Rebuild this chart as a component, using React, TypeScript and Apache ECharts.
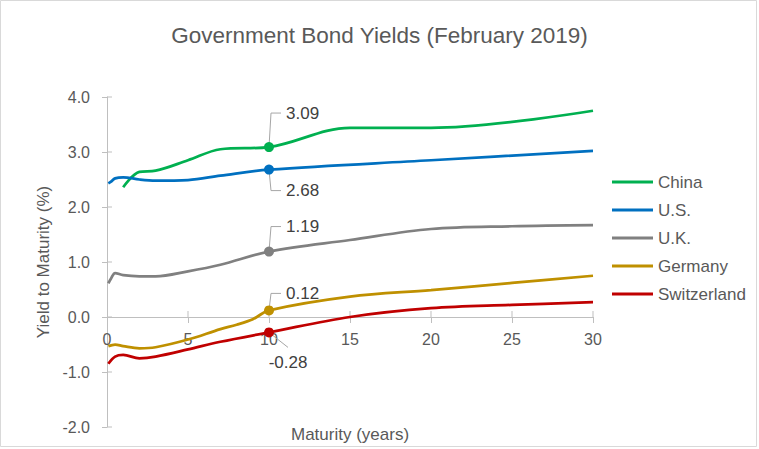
import React, { useEffect, useRef } from "react";
import * as echarts from "echarts";

const FONT = "'Liberation Sans', Arial, sans-serif";

const seriesNames = ["China", "U.S.", "U.K.", "Germany", "Switzerland"];
const seriesColors = ["#00b050", "#0070c0", "#808080", "#bf9000", "#c00000"];

const chinaMaturities = [1, 2, 3, 5, 7, 10, 15, 20, 30];
const chinaYields = [2.36, 2.64, 2.66, 2.85, 3.05, 3.09, 3.44, 3.44, 3.75];

const usMaturities = [0.083, 0.25, 0.5, 1, 2, 3, 5, 7, 10, 20, 30];
const usYields = [2.43, 2.46, 2.52, 2.54, 2.5, 2.48, 2.49, 2.57, 2.68, 2.85, 3.02];

const ukMaturities = [0.083, 0.25, 0.5, 1, 2, 3, 5, 7, 10, 15, 20, 25, 30];
const ukYields = [0.61, 0.7, 0.8, 0.76, 0.74, 0.74, 0.83, 0.95, 1.19, 1.4, 1.6, 1.65, 1.67];

const deMaturities = [0.083, 0.5, 1, 2, 3, 5, 7, 8, 9, 10, 15, 20, 25, 30];
const deYields = [-0.53, -0.5, -0.53, -0.57, -0.55, -0.41, -0.22, -0.14, -0.04, 0.12, 0.37, 0.49, 0.62, 0.75];

const chMaturities = [0.083, 0.5, 1, 2, 3, 5, 7, 10, 15, 20, 25, 30];
const chYields = [-0.85, -0.72, -0.69, -0.75, -0.72, -0.59, -0.45, -0.28, 0.0, 0.16, 0.22, 0.27];

const highlightMaturity = 10;
const highlightYields = [3.09, 2.68, 1.19, 0.12, -0.28];

const yMin = -2;
const yMax = 4;
const yStep = 1;
const xMin = 0;
const xMax = 30;
const xStep = 5;
const xTickValues = [0, 5, 10, 15, 20, 25, 30];
const yTickValues = [-2, -1, 0, 1, 2, 3, 4];

const allMaturities = [chinaMaturities, usMaturities, ukMaturities, deMaturities, chMaturities];
const allYields = [chinaYields, usYields, ukYields, deYields, chYields];

// label layout (pixel offsets relative to the highlighted point)
const labelLayout = [
  { kind: "elbow", dy: -34 },
  { kind: "elbow", dy: 21 },
  { kind: "elbow", dy: -25 },
  { kind: "elbow", dy: -17 },
  { kind: "diag", dx: 19, dy: 15, ty: 30 },
];

const zip = (xs: number[], ys: number[]) => xs.map((x, i) => [x, ys[i]]);

// plot area layout
const GRID_LEFT = 107;
const GRID_RIGHT = 166;
const GRID_TOP = 97;
const GRID_BOTTOM = 22;
const CHART_H = 449;

export default function App() {
  const ref = useRef<HTMLDivElement>(null);
  useEffect(() => {
    const chart = echarts.init(ref.current!, null, { renderer: "svg" });
    const axisColor = "#bfbfbf";
    const textColor = "#595959";

    // the visible x axis lives in a second grid whose bottom edge sits on y = 0
    const plotH = CHART_H - GRID_TOP - GRID_BOTTOM;
    const zeroY = GRID_TOP + ((yMax - 0) / (yMax - yMin)) * plotH;
    const axisGridBottom = CHART_H - zeroY;

    const lineSeries = seriesNames.map((name, i) => ({
      name,
      type: "line",
      data: zip(allMaturities[i], allYields[i]),
      smooth: 0.35,
      showSymbol: false,
      symbol: "none",
      lineStyle: { width: 2.75, color: seriesColors[i] },
      itemStyle: { color: seriesColors[i] },
      z: 2 + i,
    }));

    // inner halves of the crossing tick marks (outer halves come from the axes)
    const innerTicks = {
      type: "custom",
      silent: true,
      z: 1,
      clip: false,
      data: [
        ...xTickValues.filter((v) => v !== 0).map((v) => [v, 0, 0]),
        ...yTickValues.map((v) => [0, v, 1]),
      ],
      renderItem: (params: any, api: any) => {
        const p = api.coord([api.value(0), api.value(1)]);
        const isY = api.value(2) === 1;
        const shape = isY
          ? { x1: p[0], y1: p[1], x2: p[0] + 5, y2: p[1] }
          : { x1: p[0], y1: p[1], x2: p[0], y2: p[1] - 6 };
        return { type: "line", shape, style: { stroke: axisColor, lineWidth: 1 } };
      },
    };

    const labelSeries = {
      type: "custom",
      silent: true,
      z: 20,
      clip: false,
      data: highlightYields.map((v) => [highlightMaturity, v]),
      renderItem: (params: any, api: any) => {
        const i = params.dataIndex;
        const v = api.value(1);
        const p = api.coord([api.value(0), v]);
        const L: any = labelLayout[i];
        const children: any[] = [];
        const txt = v.toFixed(2);
        if (L.kind === "elbow") {
          const ly = p[1] + L.dy;
          children.push({
            type: "polyline",
            shape: { points: [[p[0], p[1]], [p[0] + 2, ly], [p[0] + 12, ly]] },
            style: { stroke: "#a6a6a6", lineWidth: 1, fill: null },
          });
          children.push({
            type: "text",
            style: {
              x: p[0] + 17,
              y: ly,
              text: txt,
              fontSize: 17,
              fontFamily: FONT,
              fill: "#404040",
              align: "left",
              verticalAlign: "middle",
            },
          });
        } else {
          children.push({
            type: "polyline",
            shape: { points: [[p[0], p[1]], [p[0] + L.dx, p[1] + L.dy]] },
            style: { stroke: "#a6a6a6", lineWidth: 1, fill: null },
          });
          children.push({
            type: "text",
            style: {
              x: p[0] + L.dx,
              y: p[1] + L.ty,
              text: txt,
              fontSize: 17,
              fontFamily: FONT,
              fill: "#404040",
              align: "center",
              verticalAlign: "middle",
            },
          });
        }
        children.push({
          type: "circle",
          shape: { cx: p[0], cy: p[1], r: 5 },
          style: { fill: seriesColors[i] },
        });
        return { type: "group", children };
      },
    };

    chart.setOption({
      animation: false,
      backgroundColor: "#ffffff",
      textStyle: { fontFamily: FONT },
      title: {
        text: "Government Bond Yields (February 2019)",
        left: "center",
        top: 19,
        textStyle: { fontSize: 22.5, fontWeight: "normal", color: textColor, fontFamily: FONT },
      },
      legend: {
        orient: "vertical",
        left: 612,
        top: 172,
        padding: 0,
        itemGap: 8,
        itemWidth: 41,
        itemHeight: 3,
        icon: "rect",
        data: seriesNames,
        textStyle: { fontSize: 17, color: textColor, lineHeight: 20, fontFamily: FONT },
      },
      grid: [
        {
          left: GRID_LEFT,
          right: GRID_RIGHT,
          top: GRID_TOP,
          bottom: GRID_BOTTOM,
          containLabel: false,
          outerBoundsMode: "none",
        },
        {
          left: GRID_LEFT,
          right: GRID_RIGHT,
          top: GRID_TOP,
          bottom: axisGridBottom,
          containLabel: false,
          outerBoundsMode: "none",
        },
      ],
      xAxis: [
        {
          type: "value",
          gridIndex: 0,
          min: xMin,
          max: xMax,
          interval: xStep,
          show: false,
        },
        {
          type: "value",
          gridIndex: 1,
          min: xMin,
          max: xMax,
          interval: xStep,
          position: "bottom",
          z: 0,
          axisLine: { show: true, onZero: false, lineStyle: { color: axisColor, width: 1 } },
          axisTick: { show: true, length: 6, lineStyle: { color: axisColor } },
          axisLabel: { fontSize: 16, color: textColor, margin: 14, fontFamily: FONT },
          splitLine: { show: false },
          name: "Maturity (years)",
          nameLocation: "middle",
          nameGap: 109,
          nameTextStyle: { fontSize: 17, color: textColor, fontFamily: FONT },
        },
      ],
      yAxis: [
        {
          type: "value",
          gridIndex: 0,
          min: yMin,
          max: yMax,
          interval: yStep,
          position: "left",
          axisLine: { show: true, onZero: false, lineStyle: { color: axisColor, width: 1 } },
          axisTick: { show: true, length: 5, lineStyle: { color: axisColor } },
          axisLabel: {
            fontSize: 16,
            color: textColor,
            margin: 17,
            fontFamily: FONT,
            formatter: (v: number) => v.toFixed(1),
          },
          splitLine: { show: false },
          name: "Yield to Maturity (%)",
          nameLocation: "middle",
          nameGap: 55,
          nameTextStyle: { fontSize: 17, color: textColor, fontFamily: FONT },
        },
        {
          type: "value",
          gridIndex: 1,
          min: 0,
          max: 1,
          show: false,
        },
      ],
      series: [innerTicks, ...lineSeries, labelSeries],
      graphic: [
        {
          type: "rect",
          silent: true,
          z: -10,
          shape: { x: 0.5, y: 0.5, width: 756, height: 446 },
          style: { fill: "none", stroke: "#d9d9d9", lineWidth: 1 },
        },
      ],
    });
    return () => chart.dispose();
  }, []);
  return (
    <div
      ref={ref}
      style={{ position: "fixed", left: 0, top: 0, width: 759, height: 449, background: "#fff" }}
    />
  );
}
